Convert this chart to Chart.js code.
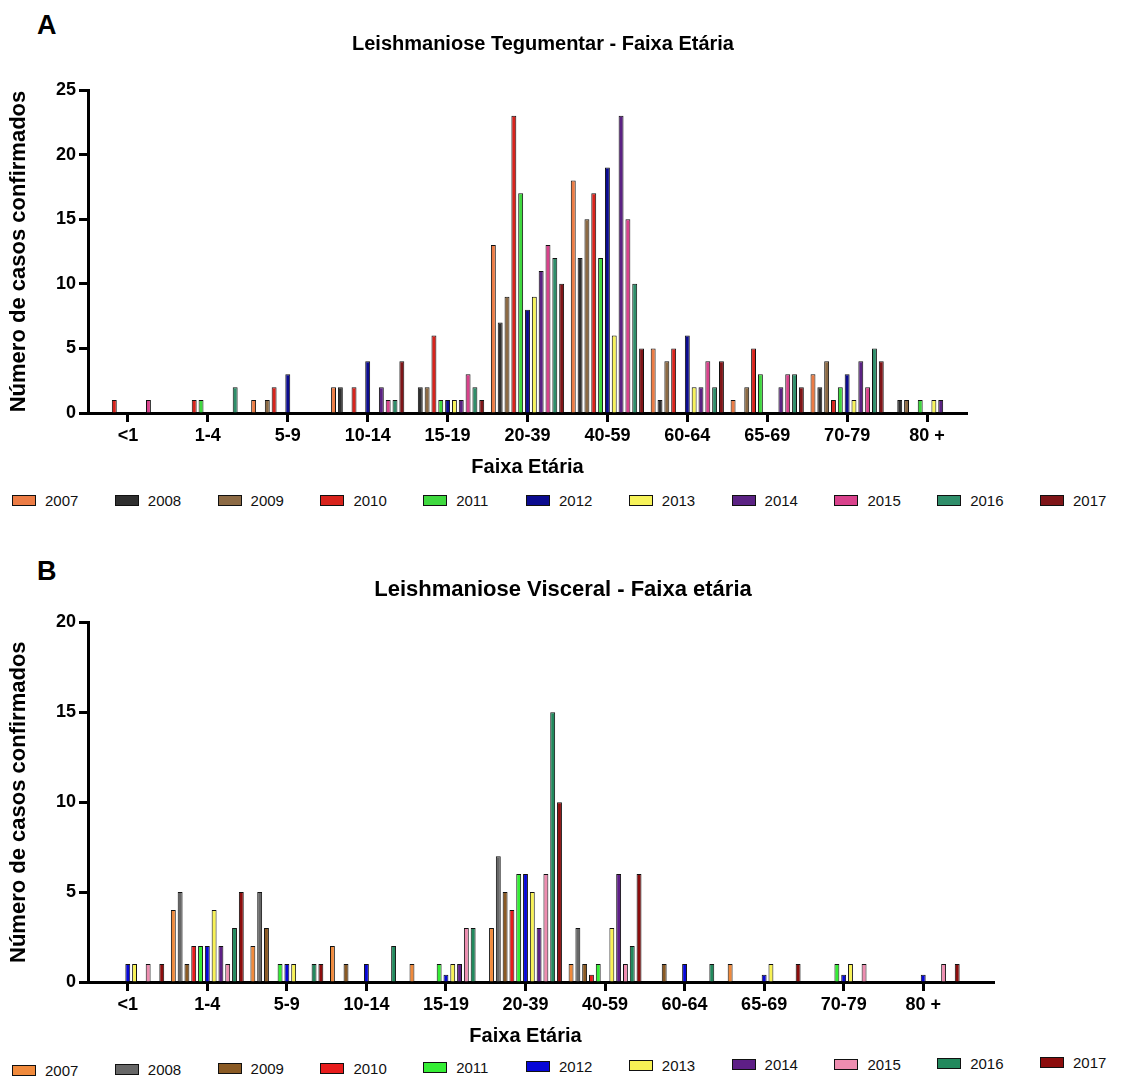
<!DOCTYPE html>
<html>
<head>
<meta charset="utf-8">
<script src="https://cdn.jsdelivr.net/npm/chart.js@4.4.1/dist/chart.umd.min.js"></script>
<style>
  body{margin:0;background:#fff;font-family:Arial,"Liberation Sans",sans-serif;}
  .panel{position:absolute;left:0;}
  .tag{position:absolute;font:bold 27px Arial,"Liberation Sans",sans-serif;color:#000;}
  .legend{position:absolute;left:12px;height:20px;}
  .legend .item{position:absolute;top:0;display:flex;align-items:center;font:15px Arial,"Liberation Sans",sans-serif;color:#111;white-space:nowrap;}
  .legend .box{width:22px;height:9px;border:1px solid #111;margin-right:9px;}
</style>
</head>
<body>
<div class="tag" style="left:37px;top:10px">A</div>
<div class="panel" style="top:0"><canvas id="chartA" width="1126" height="479"></canvas></div>
<div class="legend" id="legendA" style="top:492px"></div>
<div class="tag" style="left:37px;top:556px">B</div>
<div class="panel" style="top:540px"><canvas id="chartB" width="1126" height="508"></canvas></div>
<div class="legend" id="legendB" style="top:1058px"></div>
<script>
const ageGroups = ['<1','1-4','5-9','10-14','15-19','20-39','40-59','60-64','65-69','70-79','80 +'];
const years = ['2007','2008','2009','2010','2011','2012','2013','2014','2015','2016','2017'];

// Leishmaniose Tegumentar - cases per age group, one array per year
const tegumentar2007 = [0,0,1,2,0,13,18,5,1,3,0];
const tegumentar2008 = [0,0,0,2,2,7,12,1,0,2,1];
const tegumentar2009 = [0,0,1,0,2,9,15,4,2,4,1];
const tegumentar2010 = [1,1,2,2,6,23,17,5,5,1,0];
const tegumentar2011 = [0,1,0,0,1,17,12,0,3,2,1];
const tegumentar2012 = [0,0,3,4,1,8,19,6,0,3,0];
const tegumentar2013 = [0,0,0,0,1,9,6,2,0,1,1];
const tegumentar2014 = [0,0,0,2,1,11,23,2,2,4,1];
const tegumentar2015 = [1,0,0,1,3,13,15,4,3,2,0];
const tegumentar2016 = [0,2,0,1,2,12,10,2,3,5,0];
const tegumentar2017 = [0,0,0,4,1,10,5,4,2,4,0];

// Leishmaniose Visceral
const visceral2007 = [0,4,2,2,1,3,1,0,1,0,0];
const visceral2008 = [0,5,5,0,0,7,3,0,0,0,0];
const visceral2009 = [0,1,3,1,0,5,1,1,0,0,0];
const visceral2010 = [0,2,0,0,0,4,0.4,0,0,0,0];
const visceral2011 = [0,2,1,0,1,6,1,0,0,1,0];
const visceral2012 = [1,2,1,1,0.4,6,0,1,0.4,0.4,0.4];
const visceral2013 = [1,4,1,0,1,5,3,0,1,1,0];
const visceral2014 = [0,2,0,0,1,3,6,0,0,0,0];
const visceral2015 = [1,1,0,0,3,6,1,0,0,1,1];
const visceral2016 = [0,3,1,2,3,15,2,1,0,0,0];
const visceral2017 = [1,5,1,0,0,10,6,0,1,0,1];

const tickA = [0,5,10,15,20,25];
const tickB = [0,5,10,15,20];

const coloursA = ['#ec7c45','#2f2f2f','#8c6a44','#d8231c','#3fd83f','#0b0b8f','#f7f35a','#5b2283','#d9428c','#2f8e6a','#7f1518'];
const coloursB = ['#f08a3c','#676767','#8a5a24','#e81c1c','#35ee35','#0707d8','#f8f255','#5e1f86','#ee8db0','#22895d','#8c0d0d'];

const seriesA = [tegumentar2007,tegumentar2008,tegumentar2009,tegumentar2010,tegumentar2011,tegumentar2012,tegumentar2013,tegumentar2014,tegumentar2015,tegumentar2016,tegumentar2017];
const seriesB = [visceral2007,visceral2008,visceral2009,visceral2010,visceral2011,visceral2012,visceral2013,visceral2014,visceral2015,visceral2016,visceral2017];

const PLOT_LEFT = 88;

// GraphPad draws the x axis line a bit past the last group in panel B
const axisTail = {
  id:'axisTail',
  afterDraw(chart, args, opts){
    if(!opts.to) return;
    const {ctx, chartArea} = chart;
    const y = Math.round(chart.scales.x.top) + 0.5;
    ctx.save(); ctx.strokeStyle = '#000'; ctx.lineWidth = 3;
    ctx.beginPath(); ctx.moveTo(chartArea.right, y); ctx.lineTo(opts.to, y); ctx.stroke();
    ctx.restore();
  }
};

function makeChart(id, series, colours, ticks, cfg){
  const yMax = ticks[ticks.length-1];
  return new Chart(document.getElementById(id), {
    type:'bar',
    plugins:[axisTail],
    data:{
      labels: ageGroups,
      datasets: series.map((d,i)=>({
        label: years[i], data: d,
        backgroundColor: colours[i], borderColor:'#111', borderWidth:1,
        categoryPercentage:0.94, barPercentage:0.72
      }))
    },
    options:{
      responsive:false, animation:false,
      layout:{padding:{top:cfg.padTop,left:0,right:cfg.padRight,bottom:0}},
      plugins:{
        title:{display:true, text:cfg.title, color:'#000', font:{size:cfg.titleSize, weight:'bold', family:'Arial'}, padding:{top:0,bottom:cfg.gap}},
        legend:{display:false},
        tooltip:{enabled:false},
        axisTail:{to:cfg.tail}
      },
      scales:{
        x:{
          afterFit: s => { s.height = 66; },
          grid:{display:true, drawOnChartArea:false, offset:false, tickLength:9, tickWidth:3, tickColor:'#000'},
          border:{display:true, width:3, color:'#000'},
          ticks:{color:'#000', font:{size:18, weight:'bold', family:'Arial'}, padding:3, maxRotation:0, autoSkip:false},
          title:{display:true, text:'Faixa Etária', color:'#000', font:{size:20, weight:'bold', family:'Arial'}, padding:{top:0,bottom:0}}
        },
        y:{
          min:0, max:yMax,
          afterFit: s => { s.width = PLOT_LEFT; },
          afterBuildTicks: s => { s.ticks = ticks.map(v=>({value:v})); },
          grid:{display:true, drawOnChartArea:false, tickLength:9, tickWidth:3, tickColor:'#000'},
          border:{display:true, width:3, color:'#000'},
          ticks:{color:'#000', font:{size:18, weight:'bold', family:'Arial'}, padding:3},
          title:{display:true, text:'Número de casos confirmados', color:'#000', font:{size:22, weight:'bold', family:'Arial'}, padding:{top:6,bottom:0}}
        },
        spacer:{
          type:'linear', position:'right', display:true,
          afterFit: s => { s.width = 1126 - cfg.padRight - cfg.plotRight; },
          grid:{display:false}, border:{display:false}, ticks:{display:false}
        }
      }
    }
  });
}

function buildLegend(chart, el, tilt){
  chart.data.datasets.forEach((ds,i)=>{
    const item = document.createElement('div');
    item.className = 'item';
    item.style.left = (i*102.8) + 'px';
    item.style.top = (tilt*(i-5)) + 'px';
    const box = document.createElement('span');
    box.className = 'box';
    box.style.background = ds.backgroundColor;
    item.appendChild(box);
    item.appendChild(document.createTextNode(ds.label));
    el.appendChild(item);
  });
}

const chartA = makeChart('chartA', seriesA, coloursA, tickA,
  {title:'Leishmaniose Tegumentar - Faixa Etária', titleSize:20, padTop:32, gap:34, padRight:40, plotRight:967, tail:0});
const chartB = makeChart('chartB', seriesB, coloursB, tickB,
  {title:'Leishmaniose Visceral - Faixa etária', titleSize:22, padTop:37, gap:19, padRight:0, plotRight:963, tail:995});
buildLegend(chartA, document.getElementById('legendA'), 0);
buildLegend(chartB, document.getElementById('legendB'), -0.8);
</script>
</body>
</html>
